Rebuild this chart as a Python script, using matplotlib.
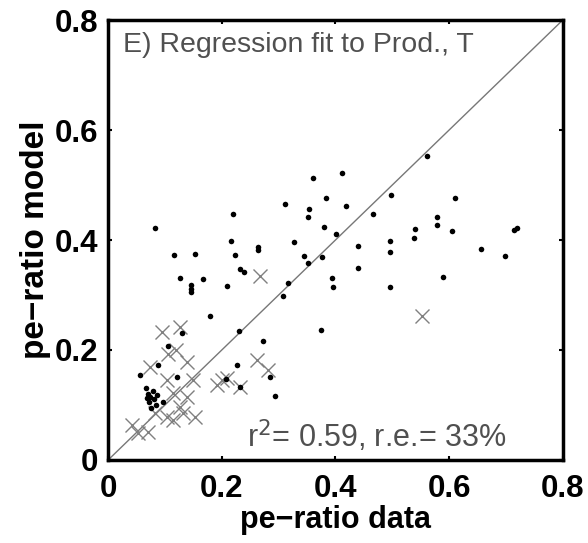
import numpy as np
import matplotlib.pyplot as plt

plt.rcParams['font.family'] = ['Liberation Sans', 'DejaVu Sans']

# model vs data, fitted points (dots)
dot_x = [0.083, 0.220, 0.311, 0.360, 0.411, 0.383, 0.418, 0.353, 0.351, 0.380,
         0.401, 0.216, 0.264, 0.264, 0.327, 0.115, 0.153, 0.223, 0.344, 0.377,
         0.352, 0.232, 0.239, 0.127, 0.167, 0.146, 0.146, 0.146, 0.209, 0.316,
         0.308, 0.394, 0.396, 0.561, 0.497, 0.610, 0.466, 0.578, 0.578, 0.540,
         0.538, 0.606, 0.715, 0.719, 0.439, 0.496, 0.496, 0.657, 0.698, 0.439,
         0.590, 0.496, 0.374, 0.179, 0.230, 0.272, 0.130, 0.105, 0.227, 0.285,
         0.293, 0.088, 0.056, 0.121, 0.207, 0.232, 0.066, 0.070, 0.074, 0.078,
         0.072, 0.080, 0.084, 0.076, 0.068, 0.086, 0.097]
dot_y = [0.422, 0.447, 0.465, 0.513, 0.522, 0.477, 0.462, 0.456, 0.442, 0.423,
         0.411, 0.398, 0.387, 0.382, 0.396, 0.373, 0.374, 0.373, 0.371, 0.369,
         0.358, 0.347, 0.342, 0.331, 0.329, 0.318, 0.311, 0.305, 0.316, 0.322,
         0.298, 0.331, 0.315, 0.553, 0.482, 0.476, 0.447, 0.441, 0.427, 0.420,
         0.404, 0.416, 0.418, 0.422, 0.389, 0.398, 0.378, 0.384, 0.371, 0.349,
         0.333, 0.314, 0.236, 0.262, 0.235, 0.216, 0.231, 0.207, 0.173, 0.151,
         0.116, 0.173, 0.155, 0.151, 0.147, 0.133, 0.130, 0.120, 0.115, 0.125,
         0.105, 0.110, 0.100, 0.095, 0.112, 0.118, 0.105]

# second group (crosses)
crs_x = [0.267, 0.552, 0.095, 0.127, 0.120, 0.105, 0.074, 0.139, 0.103, 0.150,
         0.262, 0.281, 0.200, 0.191, 0.209, 0.232, 0.114, 0.139, 0.127, 0.104,
         0.114, 0.153, 0.132, 0.042, 0.053, 0.083, 0.070]
crs_y = [0.335, 0.262, 0.233, 0.242, 0.200, 0.193, 0.169, 0.178, 0.145, 0.145,
         0.182, 0.164, 0.145, 0.136, 0.149, 0.133, 0.122, 0.115, 0.096, 0.078,
         0.073, 0.078, 0.085, 0.064, 0.049, 0.085, 0.050]

fig = plt.figure(figsize=(5.88, 5.43), dpi=100)
ax = fig.add_axes([0.184, 0.153, 0.773, 0.810])

ax.plot([0, 0.8], [0, 0.8], color='#777777', lw=1.0)
ax.plot(crs_x, crs_y, 'x', color='#808080', ms=10, mew=1.0)
ax.plot(dot_x, dot_y, 'o', color='black', ms=4, mew=0)

ax.set_xlim(0, 0.8)
ax.set_ylim(0, 0.8)
ticks = [0, 0.2, 0.4, 0.6, 0.8]
ticklabels = ['0', '0.2', '0.4', '0.6', '0.8']
ax.set_xticks(ticks)
ax.set_xticklabels(ticklabels)
ax.set_yticks(ticks)
ax.set_yticklabels(ticklabels)
ax.tick_params(direction='in', length=3, width=1.5, labelsize=22.5, top=True, right=True)
ax.tick_params(axis='x', pad=10)
ax.tick_params(axis='y', pad=7)
for lab in ax.get_xticklabels() + ax.get_yticklabels():
    lab.set_fontweight('bold')
for s in ax.spines.values():
    s.set_linewidth(2.5)

ax.set_xlabel('pe\u2212ratio data', fontsize=22, fontweight='bold', labelpad=1)
ax.set_ylabel('pe\u2212ratio model', fontsize=24, fontweight='bold', labelpad=3)

ax.text(0.026, 0.755, 'E) Regression fit to Prod., T', fontsize=20.5, color='#505050', va='center')
ax.text(0.245, 0.022, 'r$^2$= 0.59, r.e.= 33%', fontsize=22, color='#505050')

fig.savefig('out.png', dpi=100)
